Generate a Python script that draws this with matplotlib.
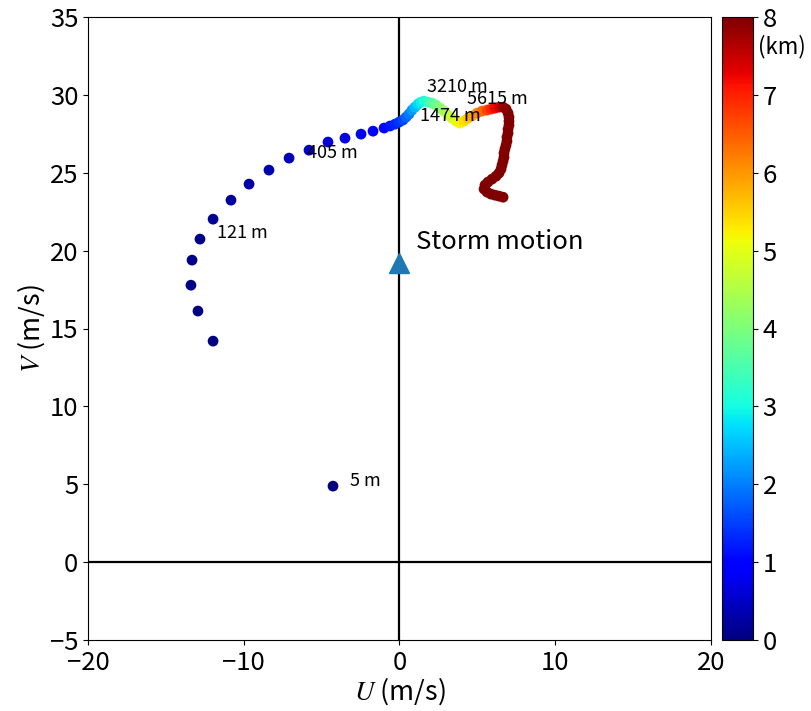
import matplotlib
matplotlib.use("Agg")
import matplotlib.pyplot as plt
import numpy as np

plt.rcParams['font.family'] = ['Noto Sans CJK JP', 'DejaVu Sans']
plt.rcParams['mathtext.fontset'] = 'stix'
plt.rcParams['axes.unicode_minus'] = True

# wind profile (U, V in m/s, height in km)
u = [-4.27, -11.97, -12.94, -13.39, -13.32, -12.81, -11.97, -10.82, -9.66, -8.38,
     -7.09, -5.81, -4.59, -3.50, -2.47, -1.70, -0.99, -0.61, -0.29,
     -0.03, 0.22, 0.42, 0.61, 0.80, 0.99, 1.19, 1.38, 1.57, 1.83,
     2.09, 2.34, 2.60, 2.86, 3.11, 3.37, 3.63, 3.88, 4.14, 4.40,
     4.65, 4.98, 5.30, 5.62, 5.88, 6.13, 6.39, 6.65, 6.84, 6.97,
     7.03, 7.03, 7.03, 6.97, 6.97, 6.90, 6.90, 6.84, 6.77, 6.71,
     6.71, 6.65, 6.58, 6.52, 6.39, 6.20, 5.94, 5.68, 5.49, 5.43,
     5.62, 5.87, 6.13, 6.39, 6.65]
v = [4.88, 14.19, 16.12, 17.78, 19.39, 20.74, 22.02, 23.24, 24.27, 25.17,
     25.94, 26.45, 26.97, 27.22, 27.48, 27.67, 27.87, 28.00, 28.12,
     28.25, 28.38, 28.57, 28.77, 29.02, 29.21, 29.41, 29.53, 29.60, 29.53,
     29.47, 29.34, 29.15, 28.96, 28.70, 28.51, 28.32, 28.19, 28.32, 28.51,
     28.64, 28.83, 28.96, 29.02, 29.09, 29.15, 29.21, 29.21, 29.09, 28.83,
     28.57, 28.31, 28.06, 27.80, 27.54, 27.29, 27.03, 26.77, 26.52, 26.26,
     26.00, 25.75, 25.49, 25.23, 24.98, 24.78, 24.59, 24.40, 24.21, 23.95,
     23.76, 23.63, 23.56, 23.50, 23.43]
z = [0.005, 0.025, 0.050, 0.075, 0.098, 0.121, 0.170, 0.225, 0.285, 0.345,
     0.405, 0.50, 0.60, 0.70, 0.80, 0.92, 1.05, 1.18, 1.30,
     1.40, 1.55, 1.75, 1.95, 2.20, 2.45, 2.70, 2.90, 3.10, 3.35,
     3.60, 3.85, 4.10, 4.35, 4.60, 4.80, 5.00, 5.20, 5.40, 5.60,
     5.85, 6.10, 6.40, 6.70, 6.95, 7.20, 7.45, 7.70, 7.90, 8.10,
     8.30, 8.50, 8.70, 8.90, 9.10, 9.30, 9.50, 9.70, 9.90, 10.10,
     10.30, 10.50, 10.70, 10.90, 11.10, 11.30, 11.50, 11.70, 11.90, 12.10,
     12.30, 12.50, 12.70, 12.90, 13.10]

# height labels
label_text = ['5 m', '121 m', '405 m', '1474 m', '3210 m', '5615 m']
label_u = [-3.18, -11.72, -5.94, 1.32, 1.77, 4.33]
label_v = [5.2, 21.12, 26.26, 28.64, 30.5, 29.73]

storm_u = 0.0
storm_v = 19.2

fig = plt.figure(figsize=(8.12, 7.11), dpi=100)
ax = fig.add_axes([88/812, 71/711, 623/812, 623/711])
cax = fig.add_axes([722/812, 71/711, 31/812, 623/711])

ax.axhline(0, color='k', lw=1.6, zorder=1)
ax.axvline(0, color='k', lw=1.6, zorder=1)

sc = ax.scatter(u, v, c=z, cmap='jet', vmin=0, vmax=8, s=60, zorder=3, linewidths=0)

for t, x, y in zip(label_text, label_u, label_v):
    ax.text(x, y, t, fontsize=13, ha='left', va='center', zorder=4)

ax.plot(storm_u, storm_v, '^', color='#1f77b4', ms=15, zorder=5)
ax.text(storm_u + 1.05, storm_v + 1.35, 'Storm motion', fontsize=18.5, ha='left', va='center')

ax.set_xlim(-20, 20)
ax.set_ylim(-5, 35)
ax.set_xticks([-20, -10, 0, 10, 20])
ax.set_yticks(np.arange(-5, 36, 5))
ax.tick_params(labelsize=18.5)
ax.set_xlabel(r'$U$ (m/s)', fontsize=19.5, labelpad=0)
ax.set_ylabel(r'$V$ (m/s)', fontsize=19.5, labelpad=2)

cb = fig.colorbar(sc, cax=cax)
cb.set_ticks(range(0, 9))
cb.ax.tick_params(labelsize=18.5)
cb.ax.text(1.15, 0.952, '(km)', transform=cb.ax.transAxes, fontsize=16, ha='left', va='center')

fig.savefig('out.png', dpi=100)
